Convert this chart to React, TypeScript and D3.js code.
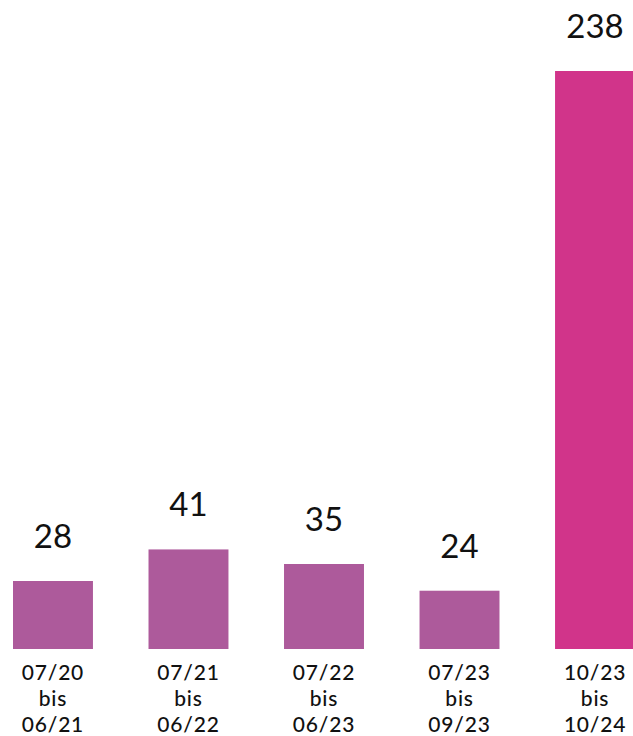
import { useEffect, useRef } from "react";
import * as d3 from "d3";

const W = 633;
const H = 736;

const periodStart = ["07/20", "07/21", "07/22", "07/23", "10/23"];
const periodEnd = ["06/21", "06/22", "06/23", "09/23", "10/24"];
const counts = [28, 41, 35, 24, 238];
const highlight = [false, false, false, false, true];

const BAR_FILL = "#ad5a9b";
const BAR_FILL_HI = "#d1348a";
const FONT = "Lato, 'Open Sans', sans-serif";

export default function App() {
  const ref = useRef<SVGSVGElement | null>(null);

  useEffect(() => {
    const el = ref.current;
    if (!el) return;
    const svg = d3.select(el);
    svg.selectAll("*").remove();

    const x = d3
      .scaleBand<number>()
      .domain(d3.range(counts.length))
      .range([13, 635])
      .paddingInner(0.41)
      .paddingOuter(0);

    const y = d3.scaleLinear().domain([0, 238]).range([649, 71]);

    const g = svg.append("g");

    g.selectAll("rect.bar")
      .data(counts)
      .join("rect")
      .attr("class", "bar")
      .attr("x", (_, i) => x(i)!)
      .attr("y", (d) => y(d))
      .attr("width", x.bandwidth())
      .attr("height", (d) => y(0) - y(d))
      .attr("fill", (_, i) => (highlight[i] ? BAR_FILL_HI : BAR_FILL));

    g.selectAll("text.value")
      .data(counts)
      .join("text")
      .attr("class", "value")
      .attr("x", (_, i) => x(i)! + x.bandwidth() / 2)
      .attr("y", (d) => y(d) - 33)
      .attr("text-anchor", "middle")
      .attr("font-family", FONT)
      .attr("font-size", 33)
      .attr("fill", "#111")
      .text((d) => String(d));

    const labels = g
      .selectAll("text.cat")
      .data(counts.map((_, i) => [periodStart[i], "bis", periodEnd[i]]))
      .join("text")
      .attr("class", "cat")
      .attr("text-anchor", "middle")
      .attr("font-family", FONT)
      .attr("font-size", 21)
      .attr("font-weight", 500)
      .attr("letter-spacing", 0.8)
      .attr("fill", "#111");

    labels.each(function (lines, i) {
      const cx = x(i)! + x.bandwidth() / 2;
      d3.select(this)
        .selectAll("tspan")
        .data(lines)
        .join("tspan")
        .attr("x", cx)
        .attr("y", (_, j) => 680 + j * 26)
        .text((t) => t);
    });
  }, []);

  return (
    <svg
      ref={ref}
      width={W}
      height={H}
      style={{ position: "absolute", left: 0, top: 0, display: "block", background: "#fff" }}
    />
  );
}
